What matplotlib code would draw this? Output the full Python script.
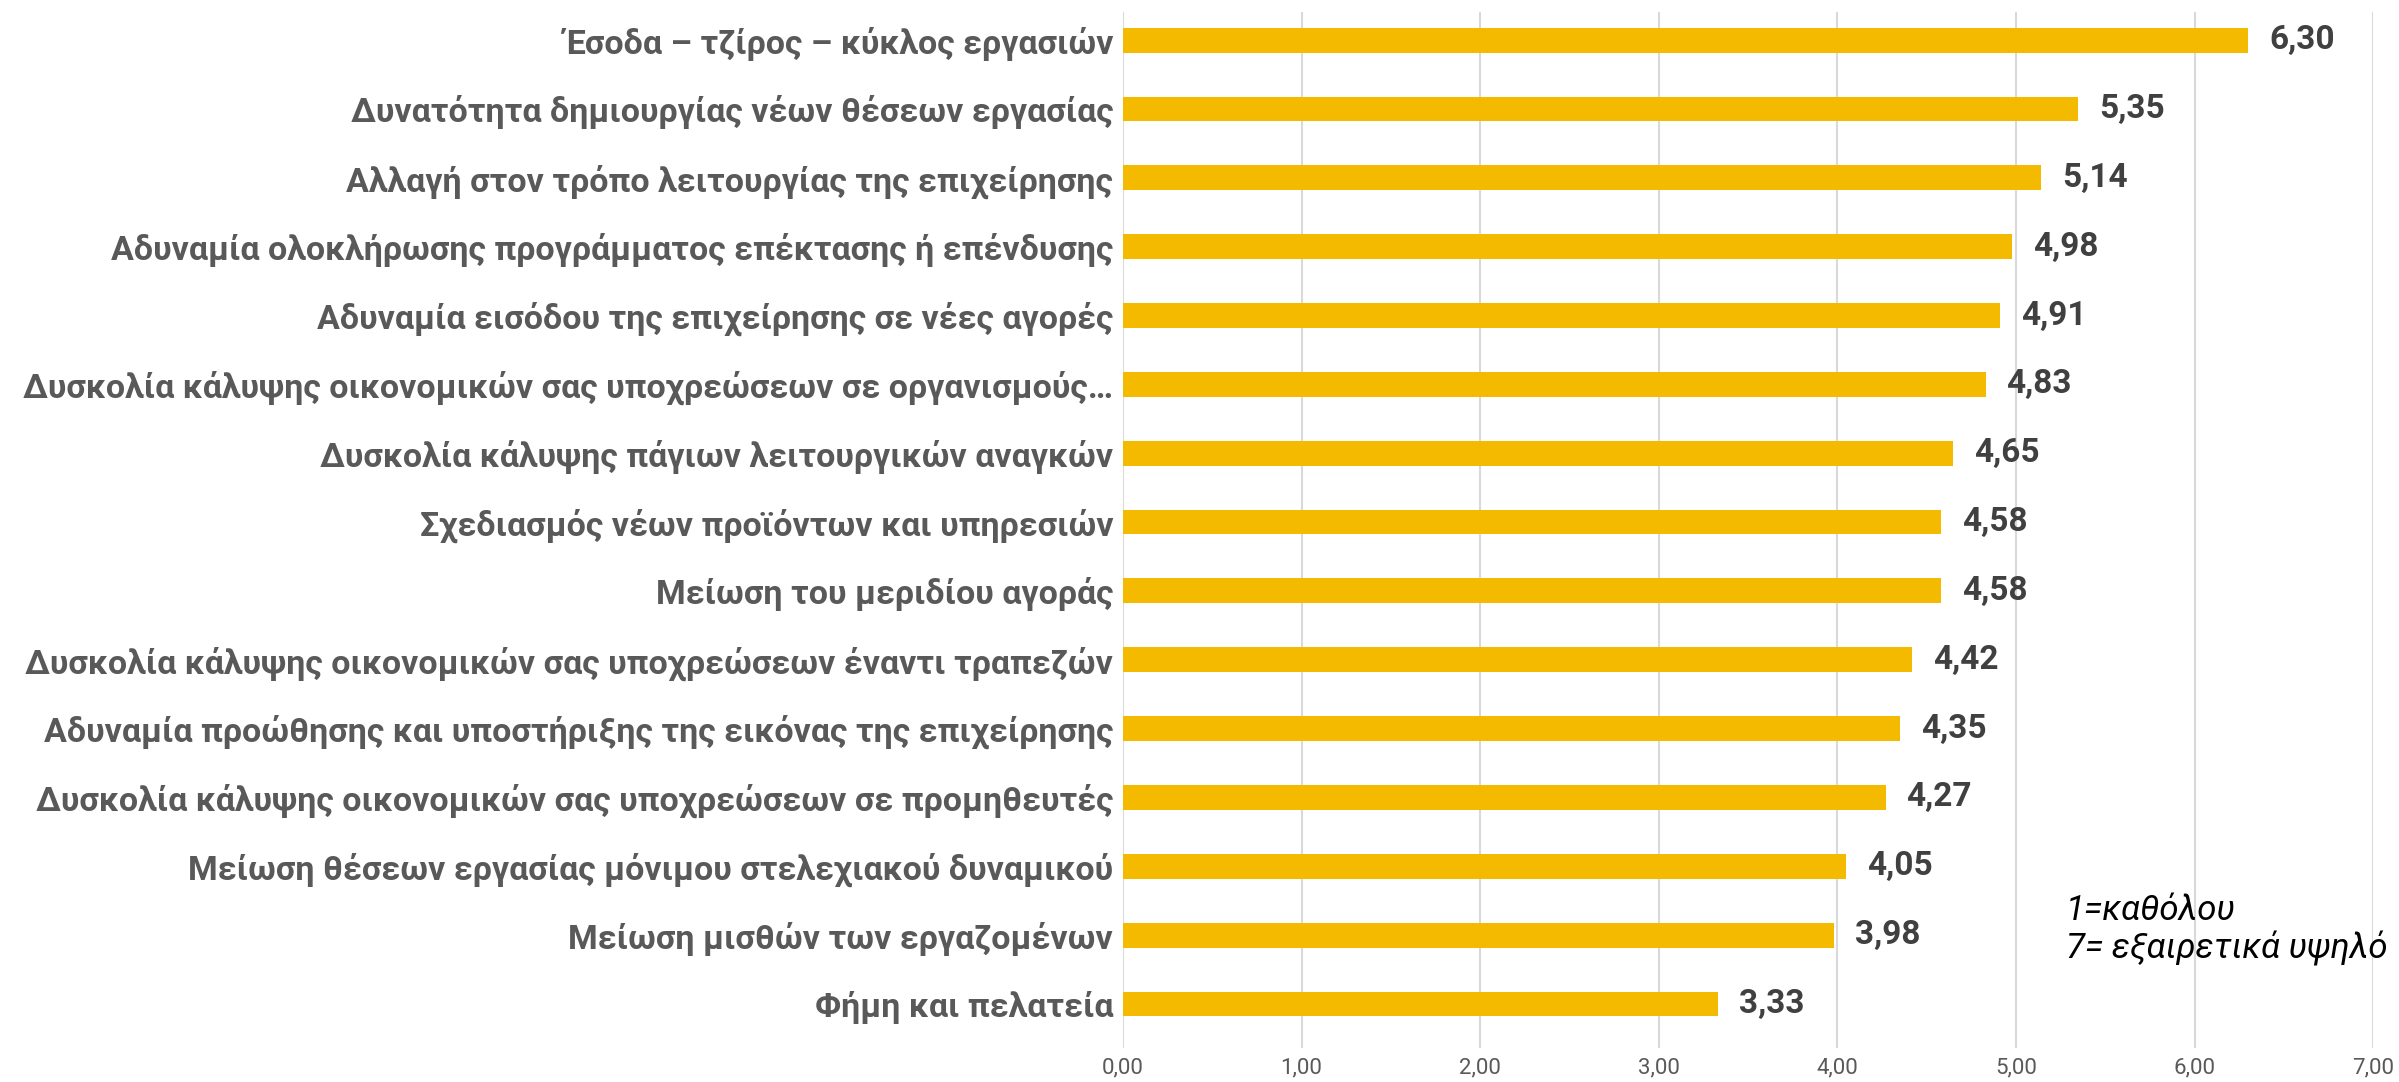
import matplotlib.pyplot as plt

plt.rcParams['font.family'] = ['Roboto', 'DejaVu Sans']

# data
categories = [
    'Έσοδα – τζίρος – κύκλος εργασιών',
    'Δυνατότητα δημιουργίας νέων θέσεων εργασίας',
    'Αλλαγή στον τρόπο λειτουργίας της επιχείρησης',
    'Αδυναμία ολοκλήρωσης προγράμματος επέκτασης ή επένδυσης',
    'Αδυναμία εισόδου της επιχείρησης σε νέες αγορές',
    'Δυσκολία κάλυψης οικονομικών σας υποχρεώσεων σε οργανισμούς…',
    'Δυσκολία κάλυψης πάγιων λειτουργικών αναγκών',
    'Σχεδιασμός νέων προϊόντων και υπηρεσιών',
    'Μείωση του μεριδίου αγοράς',
    'Δυσκολία κάλυψης οικονομικών σας υποχρεώσεων έναντι τραπεζών',
    'Αδυναμία προώθησης και υποστήριξης της εικόνας της επιχείρησης',
    'Δυσκολία κάλυψης οικονομικών σας υποχρεώσεων σε προμηθευτές',
    'Μείωση θέσεων εργασίας μόνιμου στελεχιακού δυναμικού',
    'Μείωση μισθών των εργαζομένων',
    'Φήμη και πελατεία',
]
values = [6.30, 5.35, 5.14, 4.98, 4.91, 4.83, 4.65, 4.58, 4.58, 4.42, 4.35, 4.27, 4.05, 3.98, 3.33]
x_ticks = [0, 1, 2, 3, 4, 5, 6, 7]
note = '1=καθόλου\n7= εξαιρετικά υψηλό'

fig = plt.figure(figsize=(23.99, 10.82), dpi=100)
ax = fig.add_axes([0.4681, 0.0314, 0.5211, 0.9576])

pos = list(range(len(categories)))
ax.barh(pos, values, height=0.36, color='#F4BA00', zorder=3)

# value labels next to the bars
for p, v in zip(pos, values):
    ax.annotate(f'{v:.2f}'.replace('.', ','), (v, p), xytext=(15, 0),
                textcoords='offset points', va='center', ha='left',
                fontsize=24, fontweight='bold', color='#404040')

ax.set_xlim(0, 7)
ax.set_ylim(14.64, -0.41)
ax.set_xticks(x_ticks)
ax.set_xticklabels([f'{t:.2f}'.replace('.', ',') for t in x_ticks],
                   fontsize=16, color='#595959')
ax.set_yticks(pos)
ax.set_yticklabels(categories, fontsize=24.5, fontweight='bold', color='#595959')
ax.tick_params(axis='both', length=0)
ax.tick_params(axis='x', pad=7)
ax.tick_params(axis='y', pad=7)

ax.grid(axis='x', color='#D9D9D9', linewidth=1.5, zorder=0)
for s in ax.spines.values():
    s.set_visible(False)

fig.text(2066 / 2399, 1 - 893 / 1082, note, fontsize=25, style='italic',
         color='black', va='top', ha='left', linespacing=1.15)

fig.savefig('out.png', dpi=100, facecolor='white')
